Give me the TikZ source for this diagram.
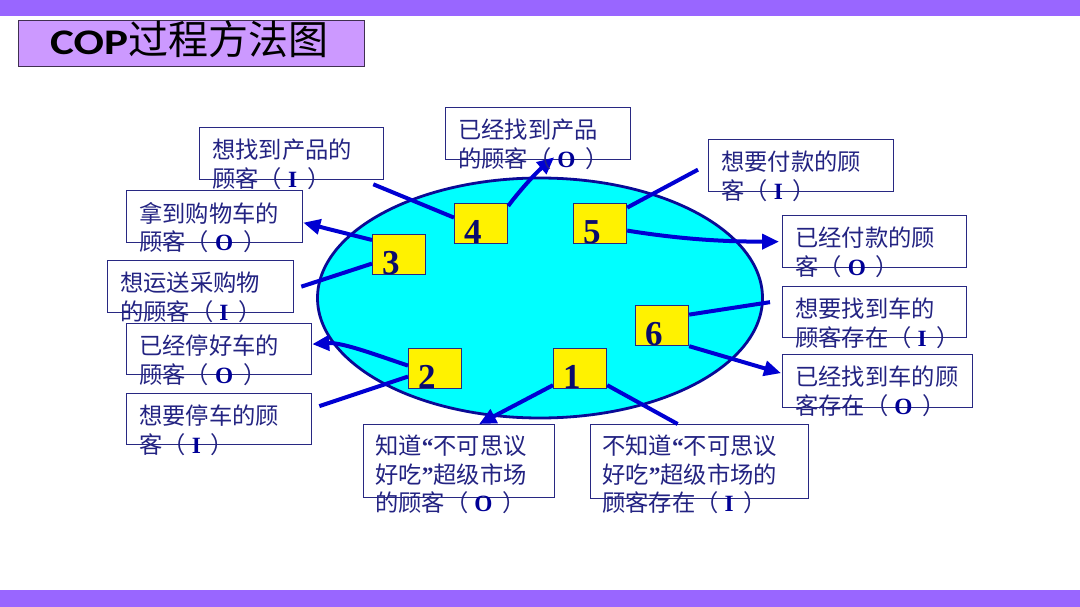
\documentclass[tikz,border=0pt]{standalone}
\usepackage{fontspec}
\usetikzlibrary{arrows.meta,shapes.geometric}
\setmainfont{Noto Sans CJK SC}
\newfontfamily\tnr{Liberation Serif}
\newfontfamily\titlelat[FakeStretch=1.25]{Carlito Bold}
\definecolor{barpurple}{RGB}{153,102,255}
\definecolor{titlefill}{RGB}{204,153,255}
\definecolor{titleline}{RGB}{64,48,80}
\definecolor{ellfill}{RGB}{0,255,255}
\definecolor{ellline}{RGB}{10,10,150}
\definecolor{boxline}{RGB}{40,40,130}
\definecolor{arrowcol}{RGB}{0,0,210}
\definecolor{txtcol}{RGB}{35,35,130}
\definecolor{iocol}{RGB}{0,0,150}
\definecolor{numcol}{RGB}{10,10,110}
\newcommand\io[1]{\hspace{6pt}{\tnr\bfseries\color{iocol}#1}\hspace{10pt}}
\newcommand\myLq{{\tnr\bfseries “}}
\newcommand\myRq{{\tnr\bfseries ”}}
\begin{document}
\begin{tikzpicture}[x=1pt,y=-1pt,
  tbox/.style={draw=boxline, line width=1.3pt, fill=white, inner sep=0, anchor=north west},
  ttext/.style={inner sep=0, anchor=north west, align=left, text=txtcol, font=\fontsize{23.3}{28.5}\selectfont},
  ybox/.style={draw=boxline, line width=1.2pt, fill=yellow, minimum width=53pt, minimum height=40pt, inner sep=0, anchor=north west},
  num/.style={inner sep=0, anchor=base west, text=numcol, font=\fontsize{35}{35}\selectfont\tnr\bfseries},
  conn/.style={draw=arrowcol, line width=4pt},
  arr/.style={conn, -{Triangle[length=17pt,width=15pt]}}
]
\useasboundingbox (0,0) rectangle (1080,607);
\fill[white] (0,0) rectangle (1080,607);
% bars
\fill[barpurple] (0,0) rectangle (1080,16);
\fill[barpurple] (0,590) rectangle (1080,607);
% title
\node[draw=titleline, line width=1.3pt, fill=titlefill, minimum width=346pt, minimum height=46pt, inner sep=0, anchor=north west] (title) at (18,20) {};
\node[inner sep=0, anchor=base west, text=black] (titletext) at (50,55) {{\fontsize{36}{36}\selectfont\titlelat COP}{\fontsize{40}{40}\selectfont 过程方法图}};
% ellipse
\node[draw=ellline, line width=2.8pt, fill=ellfill, ellipse, minimum width=445pt, minimum height=240pt, inner sep=0] (ell) at (540,298) {};
% yellow process boxes
\node[ybox] (b4) at (454,203) {};
\node[ybox] (b5) at (573,203) {};
\node[ybox] (b3) at (372,234) {};
\node[ybox] (b6) at (635,305) {};
\node[ybox] (b2) at (408,348) {};
\node[ybox] (b1) at (553,348) {};
\node[num] (n4) at ([shift={(10pt,1pt)}]b4.south west) {4};
\node[num] (n5) at ([shift={(10pt,1pt)}]b5.south west) {5};
\node[num] (n3) at ([shift={(10pt,1pt)}]b3.south west) {3};
\node[num] (n6) at ([shift={(10pt,1pt)}]b6.south west) {6};
\node[num] (n2) at ([shift={(10pt,1pt)}]b2.south west) {2};
\node[num] (n1) at ([shift={(10pt,1pt)}]b1.south west) {1};
% text boxes
\node[tbox, minimum width=184pt, minimum height=52pt] (tA) at (199,127) {};
\node[tbox, minimum width=185pt, minimum height=52pt] (tB) at (445,107) {};
\node[tbox, minimum width=185pt, minimum height=52pt] (tC) at (708,139) {};
\node[tbox, minimum width=176pt, minimum height=52pt] (tE) at (126,190) {};
\node[tbox, minimum width=184pt, minimum height=52pt] (tD) at (782,215) {};
\node[tbox, minimum width=186pt, minimum height=52pt] (tF) at (107,260) {};
\node[tbox, minimum width=184pt, minimum height=51pt] (tK) at (782,286) {};
\node[tbox, minimum width=185pt, minimum height=51pt] (tG) at (126,323) {};
\node[tbox, minimum width=190pt, minimum height=53pt] (tL) at (782,354) {};
\node[tbox, minimum width=185pt, minimum height=51pt] (tH) at (126,393) {};
\node[tbox, minimum width=191pt, minimum height=73pt] (tI) at (363,424) {};
\node[tbox, minimum width=218pt, minimum height=74pt] (tJ) at (590,424) {};
% connectors
\draw[conn] ([shift={(-11pt,-4pt)}]tA.south east) -- ([shift={(0pt,6pt)}]b4.west);
\draw[arr] ([shift={(0pt,-3pt)}]b4.north east) .. controls ([shift={(8pt,8pt)}]b4.north east) and ([shift={(-4pt,-14pt)}]tB.south) .. ([shift={(16pt,3pt)}]tB.south);
\draw[conn] ([shift={(-10pt,-4pt)}]tC.west) -- ([shift={(0pt,16pt)}]b5.east);
\draw[arr] ([shift={(0pt,-7pt)}]b5.east) .. controls +(50pt,-8pt) and +(-60pt,0pt) .. ([shift={(-3pt,0pt)}]tD.west);
\draw[arr] ([shift={(0pt,-6pt)}]b3.north west) -- ([shift={(0pt,-6pt)}]tE.east);
\draw[conn] ([shift={(7pt,0pt)}]tF.east) -- ([shift={(0pt,-9pt)}]b3.west);
\draw[arr] ([shift={(0pt,3pt)}]b2.west) .. controls +(-30pt,10pt) and +(30pt,2pt) .. ([shift={(0pt,5pt)}]tG.east);
\draw[conn] ([shift={(7pt,13pt)}]tH.east) -- ([shift={(0pt,-8pt)}]b2.west);
\draw[arr] ([shift={(0pt,4pt)}]b1.south west) -- ([shift={(20pt,0pt)}]tI.north);
\draw[conn] ([shift={(-22pt,0pt)}]tJ.north) -- ([shift={(0pt,4pt)}]b1.south east);
\draw[conn] ([shift={(-12pt,10pt)}]tK.west) -- ([shift={(0pt,11pt)}]b6.east);
\draw[arr] (b6.south east) -- ([shift={(-1pt,8pt)}]tL.west);
% texts
\node[ttext] (xA) at ([shift={(13pt,-12pt)}]tA.north west) {想找到产品的\\顾客（\io{I}）};
\node[ttext] (xB) at ([shift={(13pt,-12pt)}]tB.north west) {已经找到产品\\的顾客（\io{O}）};
\node[ttext] (xC) at ([shift={(13pt,-12pt)}]tC.north west) {想要付款的顾\\客（\io{I}）};
\node[ttext] (xE) at ([shift={(13pt,-12pt)}]tE.north west) {拿到购物车的\\顾客（\io{O}）};
\node[ttext] (xD) at ([shift={(13pt,-12pt)}]tD.north west) {已经付款的顾\\客（\io{O}）};
\node[ttext] (xF) at ([shift={(13pt,-12pt)}]tF.north west) {想运送采购物\\的顾客（\io{I}）};
\node[ttext] (xK) at ([shift={(13pt,-12pt)}]tK.north west) {想要找到车的\\顾客存在（\io{I}）};
\node[ttext] (xG) at ([shift={(13pt,-12pt)}]tG.north west) {已经停好车的\\顾客（\io{O}）};
\node[ttext] (xL) at ([shift={(13pt,-12pt)}]tL.north west) {已经找到车的顾\\客存在（\io{O}）};
\node[ttext] (xH) at ([shift={(13pt,-12pt)}]tH.north west) {想要停车的顾\\客（\io{I}）};
\node[ttext] (xI) at ([shift={(12pt,-11pt)}]tI.north west) {知道\myLq 不可思议\\好吃\myRq 超级市场\\的顾客（\io{O}）};
\node[ttext] (xJ) at ([shift={(12pt,-11pt)}]tJ.north west) {不知道\myLq 不可思议\\好吃\myRq 超级市场的\\顾客存在（\io{I}）};
\end{tikzpicture}
\end{document}
